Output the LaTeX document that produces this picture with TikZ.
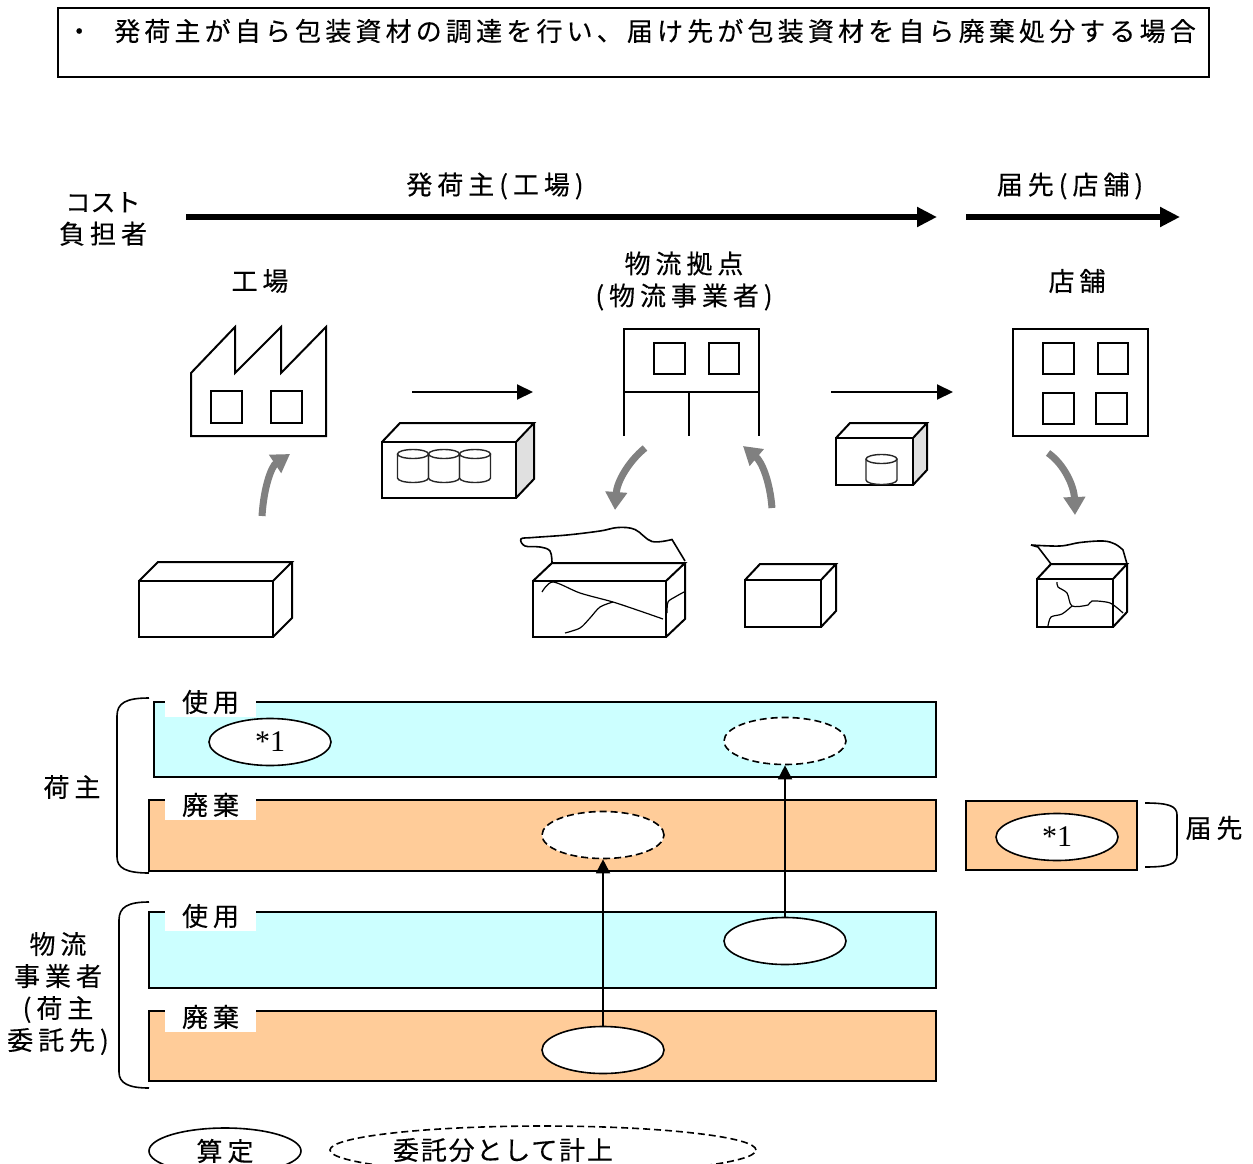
\documentclass[tikz,border=0pt]{standalone}
\usepackage{fontspec}
\usetikzlibrary{arrows.meta,shapes.geometric}
\newfontfamily\jp{Noto Sans CJK JP}[LetterSpace=19,FakeBold=0.3]
\newfontfamily\jpt{Noto Sans CJK JP}[LetterSpace=16,FakeBold=0.3]
\newfontfamily\jpn{Noto Sans CJK JP}[FakeBold=0.3]
\newfontfamily\tnr{Liberation Serif}
\definecolor{usecyan}{HTML}{CCFFFF}
\definecolor{dispor}{HTML}{FFCC99}
\definecolor{arrowgray}{HTML}{808080}

% a tin can: centre x, y of top rim, y of bottom, radius
\newcommand{\tincan}[4]{%
  \draw[can] ({#1-#4},#2) -- ({#1-#4},#3) arc[start angle=180,end angle=0,x radius=#4,y radius=4.5] -- ({#1+#4},#2);
  \draw[can] (#1,#2) ellipse[x radius=#4,y radius=4.5];}

\begin{document}
\begin{tikzpicture}[x=1pt,y=-1pt,
  lbl/.style={font=\jp\fontsize{26}{32}\selectfont,inner sep=0pt,align=center},
  ttl/.style={font=\jpt\fontsize{26}{32}\selectfont,inner sep=0pt,align=center},
  outline/.style={line width=2pt,line join=miter},
  bigflow/.style={line width=6pt,-{Triangle[length=20pt,width=19pt]}},
  moveflow/.style={line width=2pt,-{Triangle[length=16pt,width=15pt]}},
  loopflow/.style={draw=arrowgray,line width=7pt,-{Triangle[length=18pt,width=21pt]}},
  band/.style={line width=1.6pt},
  tag/.style={lbl,fill=white,minimum width=91pt,minimum height=30pt},
  figured/.style={draw,ellipse,fill=white,line width=1.6pt,minimum width=122pt,minimum height=47pt,inner sep=0pt,font=\tnr\fontsize{30}{32}\selectfont},
  entrust/.style={figured,dash pattern=on 7pt off 4pt},
  link/.style={line width=1.8pt,-{Triangle[length=14pt,width=14pt]}},
  can/.style={line width=1.4pt,draw=black!85},
  brace/.style={line width=1.6pt},
  crack/.style={line width=1.2pt}
]
\useasboundingbox (0,0) rectangle (1253,1164);

% ---- heading ----
\draw[line width=1.5pt] (58,8) rectangle (1209,77);
\node[ttl,anchor=west] (title) at (66,31) {・\hspace{22pt}発荷主が自ら包装資材の調達を行い、届け先が包装資材を自ら廃棄処分する場合};

% ---- cost bearers along the flow ----
\node[lbl] (bearer) at (103,219) {{\jpn\fontsize{25}{32}\selectfont コスト}\\負担者};
\coordinate (shipA) at (186,217);
\coordinate (shipB) at (937,217);
\coordinate (destA) at (966,217);
\coordinate (destB) at (1180,217);
\draw[bigflow] (shipA) -- (shipB);
\draw[bigflow] (destA) -- (destB);
\node[lbl] (shipper) at (495,186) {発荷主(工場)};
\node[lbl] (dest) at (1070,186) {届先(店舗)};

\node[lbl] (lfactory) at (260,281) {工場};
\node[lbl] (lhub) at (684,281) {物流拠点\\(物流事業者)};
\node[lbl] (lstore) at (1077,281) {店舗};

% ---- factory ----
\draw[outline] (191,436) -- (191,373) -- (235,327) -- (235,373) -- (281,327) -- (281,373) -- (326,327) -- (326,436) -- cycle;
\draw[outline] (211,391) rectangle (242,423);
\draw[outline] (271,391) rectangle (302,423);

% ---- logistics hub ----
\draw[outline] (624,436) -- (624,329) -- (759,329) -- (759,436);
\draw[outline] (624,392) -- (759,392);
\draw[outline] (689,392) -- (689,436);
\draw[outline] (654,343) rectangle (685,374);
\draw[outline] (709,343) rectangle (739,374);

% ---- store ----
\draw[outline] (1013,329) rectangle (1148,436);
\draw[outline] (1043,343) rectangle (1074,374);
\draw[outline] (1098,343) rectangle (1128,374);
\draw[outline] (1043,393) rectangle (1074,424);
\draw[outline] (1096,393) rectangle (1127,424);

% ---- transport arrows ----
\coordinate (mv1a) at (412,392);
\coordinate (mv1b) at (533,392);
\coordinate (mv2a) at (831,392);
\coordinate (mv2b) at (953,392);
\draw[moveflow] (mv1a) -- (mv1b);
\draw[moveflow] (mv2a) -- (mv2b);

% ---- packed case with three cans ----
\fill[black!12] (516,442) -- (534,423) -- (534,479) -- (516,498) -- cycle;
\draw[outline] (382,442) rectangle (516,498);
\draw[outline] (382,442) -- (400,423) -- (534,423) -- (516,442);
\draw[outline] (534,423) -- (534,479) -- (516,498);
\tincan{413}{454}{478}{15.5}
\tincan{444}{454}{478}{15.5}
\tincan{475}{454}{478}{15.5}

% ---- packed case with one can ----
\fill[black!12] (913,438) -- (927,423) -- (927,470) -- (913,485) -- cycle;
\draw[outline] (836,438) rectangle (913,485);
\draw[outline] (836,438) -- (850,423) -- (927,423) -- (913,438);
\draw[outline] (927,423) -- (927,470) -- (913,485);
\tincan{881.5}{459}{480}{15.5}

% ---- empty material, factory ----
\draw[outline] (139,581) rectangle (273,637);
\draw[outline] (139,581) -- (158,562) -- (292,562) -- (273,581);
\draw[outline] (292,562) -- (292,618) -- (273,637);

% ---- empty material, hub ----
\draw[outline] (745,580) rectangle (821,627);
\draw[outline] (745,580) -- (760,564) -- (836,564) -- (821,580);
\draw[outline] (836,564) -- (836,611) -- (821,627);

% ---- opened case, hub ----
\draw[outline] (533,581) rectangle (666,637);
\draw[outline] (533,581) -- (552,563) -- (685,563) -- (666,581);
\draw[outline] (685,563) -- (685,619) -- (666,637);
\draw[line width=1.6pt] plot[smooth,tension=0.6] coordinates {(552,563) (550,551) (540,547) (525,546) (521,539) (533,537.5) (567,535) (600,531) (618,527.5) (635,529.5) (652,541.5) (672,539.5)} -- (685,561);
\draw[crack] plot[smooth,tension=0.5] coordinates {(542,592) (553,582) (580,593) (613,602) (640,611) (663,619)};
\draw[crack] plot[smooth,tension=0.5] coordinates {(565,633) (580,628) (590,618) (600,607) (613,602)};
\draw[crack] plot[smooth,tension=0.5] coordinates {(667,613) (668,602) (675,597) (684,592)};

% ---- opened case, store ----
\draw[outline] (1037,579) rectangle (1113,627);
\draw[outline] (1037,579) -- (1051,564) -- (1127,564) -- (1113,579);
\draw[outline] (1127,564) -- (1127,612) -- (1113,627);
\draw[line width=1.6pt] (1051,564) -- (1038,547) -- (1031,545);
\draw[line width=1.6pt] plot[smooth,tension=0.6] coordinates {(1031,545) (1060,546) (1080,542.5) (1103,541) (1115,544) (1123,550)} -- (1127,564);
\draw[crack] plot[smooth,tension=0.5] coordinates {(1057,582) (1058,587) (1067,593) (1072,606) (1088,605) (1092,601) (1110,603) (1123,613)};
\draw[crack] plot[smooth,tension=0.5] coordinates {(1048,626) (1051,617) (1062,614) (1072,606)};

% ---- material flow (grey) ----
\coordinate (g1a) at (262,516); \coordinate (g1b) at (290,454);
\coordinate (g2a) at (645,448); \coordinate (g2b) at (615,510);
\coordinate (g3a) at (772,508); \coordinate (g3b) at (743,446);
\coordinate (g4a) at (1048,453); \coordinate (g4b) at (1075,515);
\draw[loopflow] (g1a) .. controls (264,485) and (272,466) .. (g1b);
\draw[loopflow] (g2a) .. controls (628,462) and (617,482) .. (g2b);
\draw[loopflow] (g3a) .. controls (770,482) and (762,462) .. (g3b);
\draw[loopflow] (g4a) .. controls (1064,464) and (1074,486) .. (g4b);

% ---- cost bands ----
\draw[band,fill=usecyan] (154,702) rectangle (936,777);
\draw[band,fill=dispor] (149,800) rectangle (936,871);
\draw[band,fill=usecyan] (149,912) rectangle (936,988);
\draw[band,fill=dispor] (149,1011) rectangle (936,1081);
\node[tag] (use1) at (210.5,702) {使用};
\node[tag] (dis1) at (210.5,805) {廃棄};
\node[tag] (use2) at (210.5,916) {使用};
\node[tag] (dis2) at (210.5,1017) {廃棄};

\draw[band,fill=dispor] (966,801) rectangle (1137,870);

% ---- braces and party names ----
\draw[brace] (149,698) .. controls (126,698) and (117,703) .. (117,716) -- (117,857) .. controls (117,868) and (126,873) .. (149,873);
\draw[brace] (149,902) .. controls (128,902) and (119,907) .. (119,920) -- (119,1072) .. controls (119,1083) and (128,1088) .. (149,1088);
\draw[brace] (1145,803) .. controls (1169,803) and (1177,806) .. (1177,815) -- (1177,855) .. controls (1177,864) and (1169,867) .. (1145,867);
\node[lbl] (shipperparty) at (72,787) {荷主};
\node[lbl] (carrierparty) at (58,993.5) {物流\\事業者\\(荷主\\委託先)};
\node[lbl] (destparty) at (1214,828) {届先};

% ---- calculated / entrusted amounts ----
\node[figured] (s1) at (270,742) {*1};
\node[entrust] (d1) at (785,741) {};
\node[entrust] (d2) at (603,835) {};
\node[figured] (s3) at (785,941) {};
\node[figured] (s4) at (603,1050) {};
\node[figured] (s5) at (1057,837) {*1};
\draw[link] (s4.north) -- (d2.south);
\draw[link] (s3.north) -- (d1.south);

% ---- legend ----
\node[figured,minimum width=152pt,minimum height=46pt,font=\jp\fontsize{26}{32}\selectfont] (legcalc) at (225,1151) {算定};
\node[entrust,minimum width=426pt,minimum height=48pt] (legentr) at (543,1150) {};
\node[lbl,font=\jpn\fontsize{26}{32}\selectfont] (legentrtext) at (503,1150) {\addfontfeature{LetterSpace=7}委託分として計上};
\end{tikzpicture}
\end{document}
